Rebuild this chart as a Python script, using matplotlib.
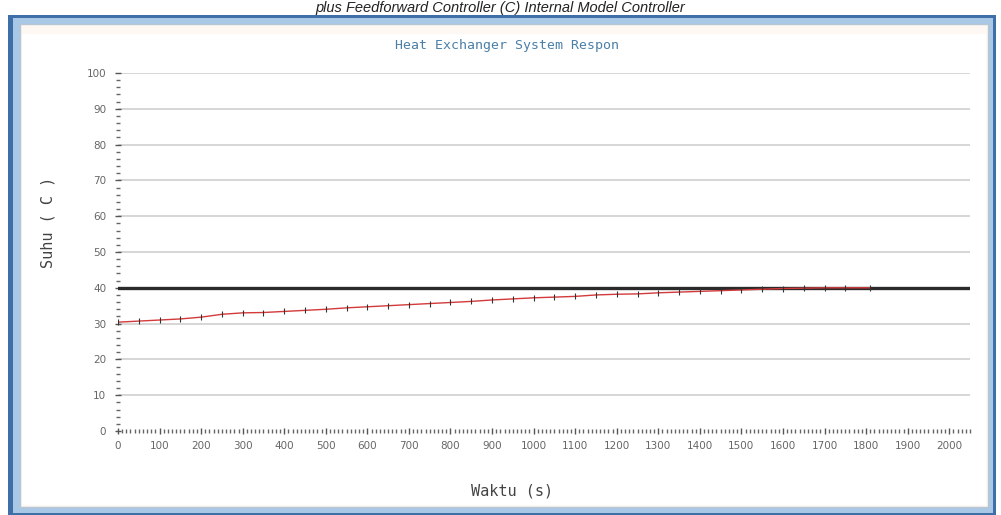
import matplotlib
matplotlib.use("Agg")
import matplotlib.pyplot as plt
from matplotlib.patches import Rectangle
from matplotlib.ticker import MultipleLocator

# Measured plant temperature (process variable) over time
time_s = [0, 50, 100, 150, 200, 250, 300, 350, 400, 450, 500, 550, 600, 650,
          700, 750, 800, 850, 900, 950, 1000, 1050, 1100, 1150, 1200, 1250,
          1300, 1350, 1400, 1450, 1500, 1550, 1600, 1650, 1700, 1750, 1810]
temp_c = [30.4, 30.7, 31.0, 31.3, 31.8, 32.6, 33.0, 33.1, 33.4, 33.7, 34.0,
          34.4, 34.7, 35.0, 35.3, 35.6, 35.9, 36.2, 36.6, 36.9, 37.2, 37.4,
          37.6, 38.0, 38.2, 38.3, 38.6, 38.8, 39.0, 39.2, 39.4, 39.6, 39.8,
          39.9, 40.0, 40.0, 40.0]

# Setpoint
setpoint_t = [0, 2050]
setpoint_c = [40, 40]

x_ticks = list(range(0, 2001, 100))
y_ticks = list(range(0, 101, 10))

W, H = 1001, 515
fig = plt.figure(figsize=(W / 100, H / 100), dpi=100)
fig.patch.set_facecolor("white")


def px_rect(x0, y0, x1, y1, **kw):
    fig.patches.append(Rectangle((x0 / W, 1 - y1 / H), (x1 - x0) / W,
                                 (y1 - y0) / H, transform=fig.transFigure,
                                 zorder=-10, **kw))


def px_text(x, y, s, **kw):
    fig.text(x / W, 1 - y / H, s, **kw)


# Window frame
px_rect(8, 15, 996, 515, facecolor="#3f6fa8", edgecolor="none")
px_rect(13, 18, 993, 513, facecolor="#a9c8e6", edgecolor="none")
px_rect(20, 24, 988, 507, facecolor="#fdf8f3", edgecolor="#b8c6d4",
        linewidth=1)
px_rect(22, 34, 986, 505, facecolor="white", edgecolor="none")

px_text(500, 1, "plus Feedforward Controller (C) Internal Model Controller",
        ha="center", va="top", fontsize=10.5, style="italic",
        family="Liberation Sans", color="#222222")

ax = fig.add_axes([118 / W, 1 - 431 / H, (970 - 118) / W, (431 - 73) / H])
ax.set_zorder(1)
ax.set_facecolor("none")
ax.set_xlim(0, 2050)
ax.set_ylim(0, 100)

ax.set_yticks(y_ticks)
ax.set_xticks(x_ticks)
ax.yaxis.set_minor_locator(MultipleLocator(2))
ax.xaxis.set_minor_locator(MultipleLocator(10))
for s in ax.spines.values():
    s.set_visible(False)

ax.grid(axis="y", which="major", color="#cfcfcf", linewidth=1.2)
ax.get_ygridlines()[0].set_visible(False)

ax.tick_params(axis="both", which="major", direction="inout", length=5,
               width=1, color="#555555", labelsize=7.5, labelcolor="#666666")
ax.tick_params(axis="both", which="minor", direction="inout", length=3,
               width=1, color="#666666")
ax.tick_params(axis="y", pad=6)
ax.tick_params(axis="x", pad=5)

ax.plot(setpoint_t, setpoint_c, color="#2a2a2a", linewidth=2.4, zorder=3)
ax.plot(time_s, temp_c, color="#d43a3a", linewidth=1.0, marker="|",
        markersize=4, markeredgecolor="#333333", markeredgewidth=0.8,
        zorder=4)

px_text(507, 46, "Heat Exchanger System Respon", family="DejaVu Sans Mono",
        fontsize=9.5, color="#4a7fa8", ha="center", va="center")
px_text(512, 491, "Waktu (s)", family="DejaVu Sans Mono", fontsize=11,
        color="#444444", ha="center", va="center")
px_text(48, 222, "Suhu ( C )", family="DejaVu Sans Mono", fontsize=11,
        color="#444444", ha="center", va="center", rotation=90)

fig.savefig("out.png", dpi=100, facecolor=fig.get_facecolor())
